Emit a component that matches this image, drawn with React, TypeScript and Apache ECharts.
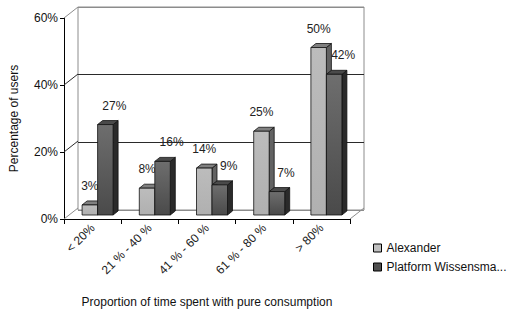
import React, { useEffect, useRef } from "react";
import * as echarts from "echarts";

const categories = ["< 20%", "21 % - 40 %", "41 % - 60 %", "61 % - 80 %", "> 80%"];
const alexander = [3, 8, 14, 25, 50];
const platform = [27, 16, 9, 7, 42];
const seriesNames = ["Alexander", "Platform Wissensma..."];
const yTicks = [0, 20, 40, 60];

const FONT = "'Liberation Sans', Arial, sans-serif";
const WALL_DX = 14;
const WALL_DY = -11;
const BAR_OX = 5;
const BAR_OY = -4;
const BAR_DX = 5;
const BAR_DY = -4;
const BAR_W = 15.5;

const faceColors = [
  {
    front: new echarts.graphic.LinearGradient(0, 0, 0, 1, [
      { offset: 0, color: "#bcbcbc" },
      { offset: 1, color: "#b0b0b0" },
    ]),
    top: "#808080",
    side: "#626262",
    legend: "#c0c0c0",
  },
  {
    front: new echarts.graphic.LinearGradient(0, 0, 0, 1, [
      { offset: 0, color: "#6e6e6e" },
      { offset: 1, color: "#4a4a4a" },
    ]),
    top: "#4a4a4a",
    side: "#2a2a2a",
    legend: "#505050",
  },
];

function barSeries(idx: number, values: number[]) {
  const labelShift = idx === 0 ? 0 : 9;
  return {
    type: "custom",
    name: seriesNames[idx],
    xAxisIndex: 0,
    yAxisIndex: 0,
    z: 5 + idx,
    itemStyle: { color: faceColors[idx].legend, borderColor: "#000", borderWidth: 1 },
    data: values.map((v, i) => [i, v]),
    renderItem: (params: any, api: any) => {
      const ci = api.value(0);
      const v = api.value(1);
      const base = api.coord([ci, 0]);
      const top = api.coord([ci, v]);
      const l = base[0] - BAR_W + idx * BAR_W + BAR_OX;
      const r = l + BAR_W;
      const b = base[1] + BAR_OY;
      const t = top[1] + BAR_OY;
      const c = faceColors[idx];
      const stroke = { stroke: "#111", lineWidth: 0.8 };
      return {
        type: "group",
        children: [
          {
            type: "polygon",
            shape: { points: [[r, t], [r + BAR_DX, t + BAR_DY], [r + BAR_DX, b + BAR_DY], [r, b]] },
            style: { fill: c.side, ...stroke },
          },
          {
            type: "polygon",
            shape: { points: [[l, t], [l + BAR_DX, t + BAR_DY], [r + BAR_DX, t + BAR_DY], [r, t]] },
            style: { fill: c.top, ...stroke },
          },
          {
            type: "rect",
            shape: { x: l, y: t, width: BAR_W, height: b - t },
            style: { fill: c.front, ...stroke },
          },
          {
            type: "text",
            x: (l + r) / 2 + labelShift,
            y: t - 19,
            z2: 50,
            style: {
              text: v + "%",
              fill: "#222",
              font: "12px " + FONT,
              align: "center",
              verticalAlign: "middle",
            },
          },
        ],
      };
    },
  };
}

export default function App() {
  const ref = useRef<HTMLDivElement>(null);
  useEffect(() => {
    document.body.style.margin = "0";
    if (!ref.current) return;
    const chart = echarts.init(ref.current, null, { renderer: "svg" });
    const gLeft = 64, gRight = 167, gTop = 18, gBottom = 92;
    chart.setOption({
      animation: false,
      backgroundColor: "#fff",
      textStyle: { fontFamily: FONT },
      grid: [
        { left: gLeft, right: gRight, top: gTop, bottom: gBottom },
        {
          left: gLeft + WALL_DX,
          right: gRight - WALL_DX,
          top: gTop + WALL_DY,
          bottom: gBottom - WALL_DY,
          show: true,
          borderColor: "#8c8c8c",
          borderWidth: 1,
          backgroundColor: "transparent",
        },
      ],
      legend: {
        orient: "vertical",
        left: 368,
        top: 237,
        itemWidth: 8,
        itemHeight: 8,
        itemGap: 7,
        icon: "rect",
        textStyle: { fontSize: 12, color: "#111", fontFamily: FONT },
        data: seriesNames.map((n, i) => ({
          name: n,
          itemStyle: { color: faceColors[i].legend, borderColor: "#000", borderWidth: 1 },
        })),
      },
      xAxis: [
        {
          type: "category",
          gridIndex: 0,
          data: categories,
          boundaryGap: true,
          axisLine: { lineStyle: { color: "#000", width: 1 } },
          axisTick: { show: true, length: 5, lineStyle: { color: "#000" } },
          axisLabel: {
            rotate: 45,
            interval: 0,
            margin: 7,
            fontSize: 12,
            color: "#222",
            fontFamily: FONT,
          },
          name: "Proportion of time spent with pure consumption",
          nameLocation: "middle",
          nameGap: 77,
          nameTextStyle: { fontSize: 12, color: "#111", fontFamily: FONT },
        },
        {
          type: "category",
          gridIndex: 1,
          data: categories,
          show: false,
        },
      ],
      yAxis: [
        {
          type: "value",
          gridIndex: 0,
          min: 0,
          max: 60,
          interval: 20,
          axisLine: { show: true, lineStyle: { color: "#000", width: 1 } },
          axisTick: { show: true, length: 4, lineStyle: { color: "#000" } },
          splitLine: { show: false },
          axisLabel: {
            formatter: "{value}%",
            fontSize: 12,
            color: "#111",
            margin: 6,
            fontFamily: FONT,
          },
          name: "Percentage of users",
          nameLocation: "middle",
          nameRotate: 90,
          nameGap: 44,
          nameTextStyle: { fontSize: 12, color: "#111", fontFamily: FONT },
        },
        {
          type: "value",
          gridIndex: 1,
          min: 0,
          max: 60,
          interval: 20,
          axisLine: { show: false },
          axisTick: { show: false },
          axisLabel: { show: false },
          splitLine: {
            show: true,
            lineStyle: { color: ["#8c8c8c", "#2a2a2a", "#2a2a2a", "#8c8c8c"], width: 1 },
          },
        },
      ],
      series: [
        {
          type: "custom",
          name: "walls",
          xAxisIndex: 0,
          yAxisIndex: 0,
          z: 1,
          silent: true,
          data: yTicks.map((v) => [0, v]),
          renderItem: (params: any, api: any) => {
            const cs = params.coordSys;
            const v = api.value(1);
            const y = api.coord([0, v])[1];
            const col = v === 0 || v === 60 ? "#8c8c8c" : "#2a2a2a";
            const children: any[] = [
              {
                type: "line",
                shape: { x1: cs.x, y1: y, x2: cs.x + WALL_DX, y2: y + WALL_DY },
                style: { stroke: col, lineWidth: 1 },
              },
            ];
            if (v === 0) {
              children.push({
                type: "line",
                shape: {
                  x1: cs.x + cs.width,
                  y1: y,
                  x2: cs.x + cs.width + WALL_DX,
                  y2: y + WALL_DY,
                },
                style: { stroke: "#8c8c8c", lineWidth: 1 },
              });
            }
            return { type: "group", children };
          },
        },
        barSeries(0, alexander),
        barSeries(1, platform),
      ],
    });
    return () => chart.dispose();
  }, []);
  return <div ref={ref} style={{ width: 517, height: 313 }} />;
}
